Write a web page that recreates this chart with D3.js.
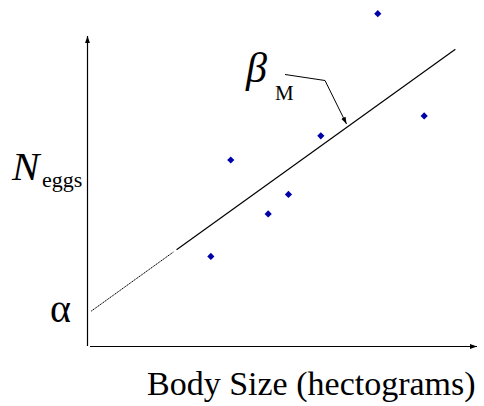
<!DOCTYPE html>
<html>
<head>
<meta charset="utf-8">
<script src="https://cdn.jsdelivr.net/npm/d3@7"></script>
</head>
<body style="margin:0">
<script>
// observed points (body size, number of eggs), arbitrary units
const bodySize = [31.5, 36.6, 46.2, 51.4, 59.7, 74.3, 86.2];
const nEggs    = [28.9, 60.0, 42.6, 48.9, 67.8, 107.2, 74.2];
// fitted line: intercept and slope
const alpha = 10.5;
const betaM = 0.905;
// where the line is drawn: faint part, then solid part
const lineFaint = [0.8, 21.9];
const lineSolid = [22.7, 94.2];

const width = 484, height = 406;
const margin = {top: 36, right: 6, bottom: 60, left: 88};

let x = d3.scaleLinear()
  .domain([0, 100])
  .range([margin.left, width - margin.right]);
let y = d3.scaleLinear()
  .domain([0, 100])
  .range([height - margin.bottom, margin.top]);

let svg = d3.select("body")
  .append("svg")
  .attr("width", width)
  .attr("height", height)
  .style("display", "block");

let defs = svg.append("defs");
defs.append("marker")
  .attr("id", "arr")
  .attr("viewBox", "0 0 10 10")
  .attr("refX", 10).attr("refY", 5)
  .attr("markerWidth", 7).attr("markerHeight", 7)
  .attr("markerUnits", "userSpaceOnUse")
  .attr("orient", "auto")
  .append("path")
  .attr("d", "M0,1.5L10,5L0,8.5Z")
  .attr("fill", "#000");

// axes (no ticks, just arrows)
svg.append("line")
  .attr("x1", x(0) - 0.5).attr("x2", x(0) - 0.5)
  .attr("y1", y(0)).attr("y2", y(100))
  .attr("stroke", "#000").attr("stroke-width", 1.2)
  .attr("marker-end", "url(#arr)");
svg.append("line")
  .attr("x1", x(0) + 2).attr("x2", x(100) - 1)
  .attr("y1", y(0) + 0.5).attr("y2", y(0) + 0.5)
  .attr("stroke", "#000").attr("stroke-width", 1.2)
  .attr("marker-end", "url(#arr)");

// regression line
let fit = v => alpha + betaM * v;
svg.append("line")
  .attr("x1", x(lineFaint[0])).attr("y1", y(fit(lineFaint[0])))
  .attr("x2", x(lineFaint[1])).attr("y2", y(fit(lineFaint[1])))
  .attr("stroke", "#000").attr("stroke-width", 1)
  .attr("stroke-dasharray", "1.5,0.6");
svg.append("line")
  .attr("x1", x(lineSolid[0])).attr("y1", y(fit(lineSolid[0])))
  .attr("x2", x(lineSolid[1])).attr("y2", y(fit(lineSolid[1])))
  .attr("stroke", "#000").attr("stroke-width", 1.2);

// points
let diamond = d3.symbol().type(d3.symbolSquare).size(26);
svg.selectAll(".pt")
  .data(bodySize.map((b, i) => [b, nEggs[i]]))
  .enter()
  .append("path")
  .attr("class", "pt")
  .attr("d", diamond)
  .attr("transform", d => "translate(" + x(d[0]) + "," + y(d[1]) + ") rotate(45)")
  .attr("fill", "#0000a8");

// slope annotation
svg.append("polyline")
  .attr("points", [[285, 74.5], [325, 80.5], [346.5, 124]].join(" "))
  .attr("fill", "none")
  .attr("stroke", "#000").attr("stroke-width", 1)
  .attr("marker-end", "url(#arr)");

let labels = [
  {x: 246, y: 82, size: 42, italic: true, t: "β"},
  {x: 275, y: 100, size: 21, italic: false, t: "M"},
  {x: 12, y: 180, size: 41, italic: true, t: "N"},
  {x: 42, y: 187, size: 22, italic: false, t: "eggs"},
  {x: 50, y: 322, size: 40, italic: false, t: "α"},
  {x: 147, y: 395, size: 34, italic: false, t: "Body Size (hectograms)"}
];
svg.selectAll(".lbl")
  .data(labels)
  .enter()
  .append("text")
  .attr("class", "lbl")
  .attr("x", d => d.x)
  .attr("y", d => d.y)
  .attr("font-family", "'Liberation Serif'")
  .attr("font-size", d => d.size)
  .attr("font-style", d => d.italic ? "italic" : "normal")
  .text(d => d.t);
</script>
</body>
</html>
